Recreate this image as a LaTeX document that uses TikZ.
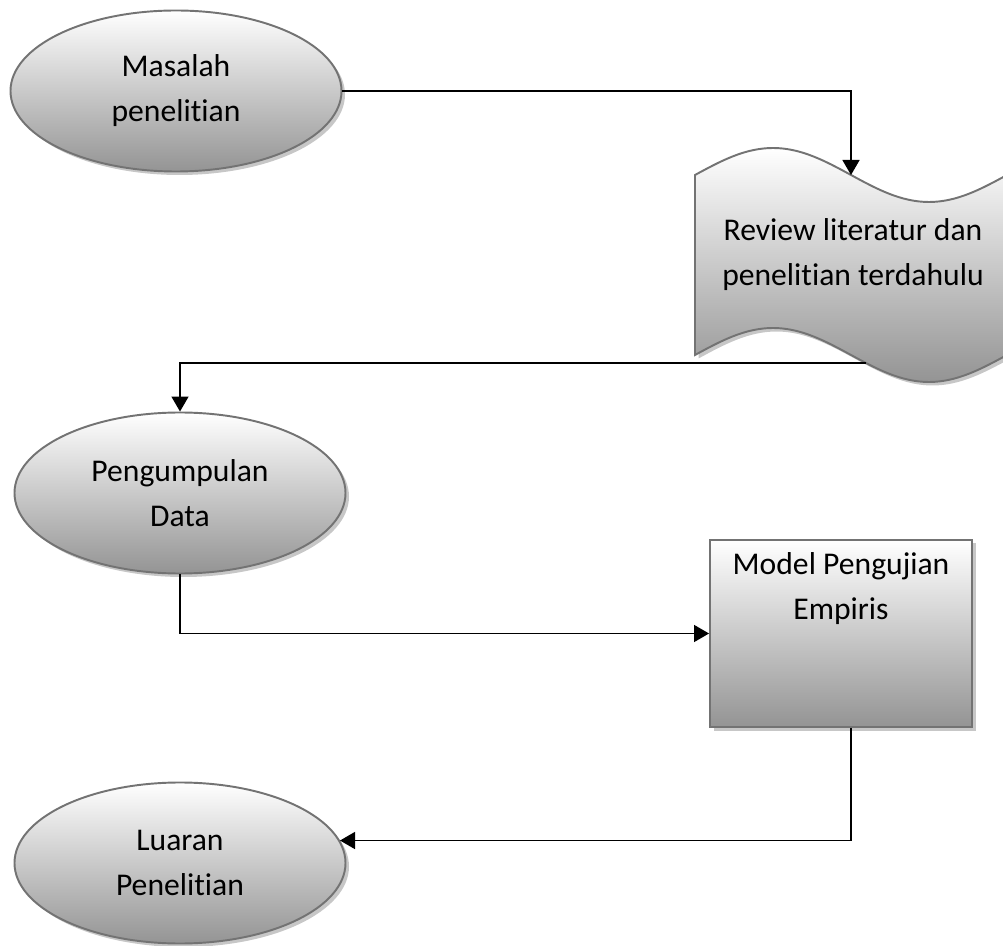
\documentclass[tikz,border=0pt]{standalone}
\usepackage{fontspec}
\setmainfont[Ligatures=NoCommon]{Carlito}
\usetikzlibrary{shapes.geometric,shadows,arrows.meta}

\begin{document}
\begin{tikzpicture}[
  font=\fontsize{18}{25.6}\selectfont,
  grad/.style={top color=white, bottom color=black!42, draw=black!55, line width=1.1pt,
    drop shadow={shadow xshift=0.07cm, shadow yshift=-0.07cm, fill=black!22, opacity=1}},
  oval/.style={grad, ellipse, minimum width=6.62cm, minimum height=3.22cm, inner sep=0pt, align=center},
  box/.style={grad, rectangle, minimum width=5.24cm, minimum height=3.74cm},
  arr/.style={line width=0.85pt, -{Triangle[length=0.3cm, width=0.34cm]}}
]
\useasboundingbox (0,0) rectangle (20.06,18.9);
\node[oval] (masalah) at (3.52,17.08) {Masalah\\penelitian};
\node[oval] (kumpul) at (3.6,9.04) {Pengumpulan\\Data};
\node[oval] (luaran) at (3.6,1.64) {Luaran\\Penelitian};
\node[box] (model) at (16.82,6.23) {};
\node[anchor=north, align=center] (modeltext) at ([yshift=-0.15cm]model.north) {Model Pengujian\\Empiris};
\path[grad] (13.9,15.4) sin (15.46,15.94) cos (17.02,15.4) coordinate (rtop)
  sin (18.58,14.86) cos (20.14,15.4) -- (20.14,11.8)
  sin (18.58,11.26) cos (17.02,11.8) sin (15.46,12.34) cos (13.9,11.8) -- cycle;
\coordinate (rbot) at (17.32,11.64);
\node[align=center] (review) at (17.06,13.8) {Review literatur dan\\penelitian terdahulu};
\draw[arr] (masalah.east) -| (rtop);
\draw[arr] (rbot) -| (kumpul.north);
\draw[arr] (kumpul.south) |- (model.west);
\draw[arr] ([xshift=0.2cm]model.south) |- (luaran.8);
\end{tikzpicture}
\end{document}
